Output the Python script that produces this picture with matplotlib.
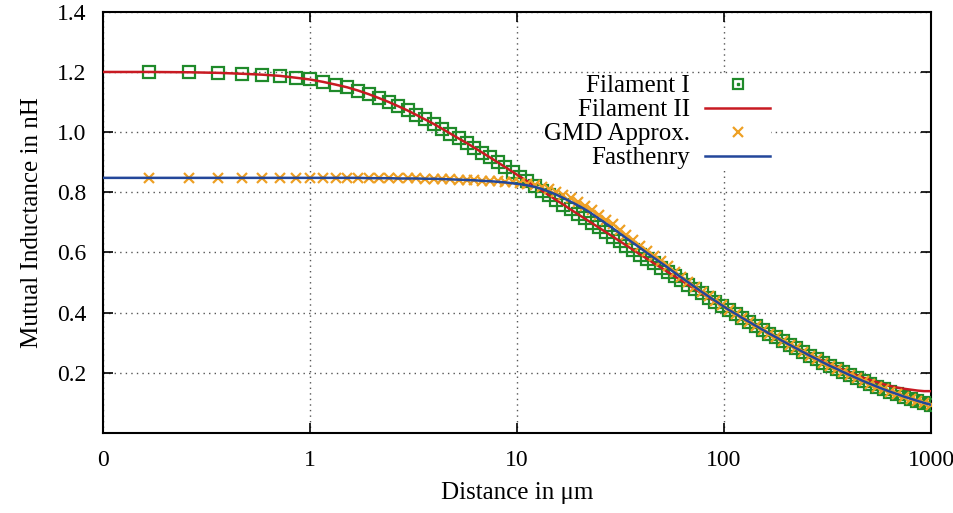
import numpy as np
import matplotlib
matplotlib.use("Agg")
import matplotlib.pyplot as plt
from matplotlib.lines import Line2D
from matplotlib.legend_handler import HandlerTuple
from matplotlib.ticker import FixedLocator, NullLocator

plt.rcParams['font.family'] = ['Liberation Serif', 'DejaVu Serif']
plt.rcParams['font.size'] = 18

# distance in um (marker positions)
dist = [0.166, 0.260, 0.361, 0.470, 0.588, 0.715, 0.851, 0.999, 1.157, 1.328,
        1.512, 1.710, 1.924, 2.154, 2.402, 2.669, 2.957, 3.267, 3.601, 3.962,
        4.349, 4.767, 5.218, 5.703, 6.225, 6.788, 7.395, 8.049, 8.753, 9.512,
        10.33, 11.21, 12.16, 13.18, 14.28, 15.47, 16.75, 18.13, 19.61, 21.21,
        22.93, 24.79, 26.79, 28.94, 31.26, 33.77, 36.46, 39.36, 42.49, 45.86,
        49.49, 53.40, 57.62, 62.16, 67.05, 72.32, 78.00, 84.12, 90.71, 97.82,
        105.5, 113.7, 122.6, 132.2, 142.5, 153.6, 165.6, 178.4, 192.3, 207.3,
        223.4, 240.8, 259.5, 279.7, 301.4, 324.8, 350.1, 377.2, 406.5, 438.1,
        472.0, 508.7, 548.1, 590.6, 636.4, 685.8, 738.9, 796.2, 857.9, 924.4,
        996.0]

filament1 = [1.200, 1.199, 1.197, 1.194, 1.191, 1.187, 1.181, 1.175, 1.167, 1.158,
             1.149, 1.138, 1.126, 1.113, 1.100, 1.086, 1.072, 1.057, 1.042, 1.027,
             1.011, 0.995, 0.979, 0.964, 0.948, 0.932, 0.916, 0.900, 0.884, 0.868,
             0.852, 0.837, 0.821, 0.805, 0.790, 0.774, 0.759, 0.743, 0.728, 0.713,
             0.698, 0.683, 0.668, 0.653, 0.638, 0.623, 0.608, 0.593, 0.579, 0.564,
             0.550, 0.535, 0.521, 0.507, 0.492, 0.478, 0.464, 0.450, 0.436, 0.423,
             0.409, 0.396, 0.382, 0.369, 0.356, 0.343, 0.330, 0.318, 0.305, 0.293,
             0.281, 0.269, 0.257, 0.246, 0.234, 0.223, 0.213, 0.202, 0.192, 0.182,
             0.172, 0.163, 0.154, 0.145, 0.137, 0.129, 0.121, 0.114, 0.107, 0.100,
             0.094]

gmd = [0.848, 0.848, 0.848, 0.848, 0.848, 0.848, 0.848, 0.848, 0.848, 0.848,
       0.848, 0.848, 0.847, 0.847, 0.847, 0.846, 0.846, 0.846, 0.845, 0.845,
       0.844, 0.843, 0.842, 0.841, 0.840, 0.838, 0.837, 0.836, 0.835, 0.833,
       0.831, 0.828, 0.825, 0.819, 0.811, 0.802, 0.792, 0.781, 0.769, 0.756,
       0.741, 0.725, 0.709, 0.693, 0.675, 0.657, 0.640, 0.623, 0.605, 0.588,
       0.571, 0.554, 0.536, 0.519, 0.502, 0.485, 0.469, 0.454, 0.439, 0.424,
       0.409, 0.396, 0.382, 0.369, 0.356, 0.343, 0.330, 0.318, 0.305, 0.293,
       0.281, 0.269, 0.257, 0.246, 0.234, 0.223, 0.213, 0.202, 0.192, 0.182,
       0.172, 0.163, 0.154, 0.145, 0.137, 0.129, 0.121, 0.114, 0.107, 0.100,
       0.094]

# lines start at the left edge of the axis
line_dist = [0.1] + dist

filament2 = [1.200,
             1.200, 1.199, 1.197, 1.194, 1.191, 1.187, 1.181, 1.175, 1.167, 1.158,
             1.149, 1.138, 1.126, 1.113, 1.100, 1.086, 1.072, 1.057, 1.042, 1.027,
             1.011, 0.995, 0.979, 0.964, 0.948, 0.932, 0.916, 0.900, 0.884, 0.868,
             0.852, 0.837, 0.821, 0.805, 0.790, 0.774, 0.759, 0.743, 0.728, 0.713,
             0.698, 0.683, 0.668, 0.653, 0.638, 0.623, 0.608, 0.593, 0.579, 0.564,
             0.550, 0.535, 0.521, 0.507, 0.492, 0.478, 0.464, 0.450, 0.436, 0.423,
             0.410, 0.396, 0.383, 0.370, 0.357, 0.344, 0.331, 0.319, 0.307, 0.295,
             0.283, 0.272, 0.260, 0.249, 0.239, 0.229, 0.219, 0.209, 0.200, 0.191,
             0.183, 0.176, 0.169, 0.162, 0.156, 0.151, 0.147, 0.144, 0.141, 0.139,
             0.139]

fasthenry = [0.848,
             0.848, 0.848, 0.848, 0.848, 0.848, 0.848, 0.848, 0.848, 0.848, 0.848,
             0.848, 0.848, 0.847, 0.847, 0.847, 0.846, 0.846, 0.846, 0.845, 0.845,
             0.844, 0.843, 0.842, 0.841, 0.840, 0.838, 0.837, 0.835, 0.833, 0.830,
             0.827, 0.823, 0.818, 0.811, 0.802, 0.792, 0.781, 0.769, 0.757, 0.744,
             0.729, 0.713, 0.697, 0.681, 0.664, 0.647, 0.631, 0.615, 0.598, 0.582,
             0.566, 0.550, 0.533, 0.517, 0.501, 0.485, 0.469, 0.454, 0.439, 0.424,
             0.409, 0.396, 0.382, 0.369, 0.356, 0.343, 0.330, 0.318, 0.305, 0.293,
             0.281, 0.269, 0.257, 0.246, 0.234, 0.223, 0.213, 0.202, 0.192, 0.182,
             0.172, 0.163, 0.154, 0.145, 0.137, 0.129, 0.121, 0.114, 0.107, 0.100,
             0.094]

xticks = [0.1, 1, 10, 100, 1000]
xticklabels = ["0", "1", "10", "100", "1000"]
yticks = [0.2, 0.4, 0.6, 0.8, 1.0, 1.2, 1.4]
yticklabels = ["0.2", "0.4", "0.6", "0.8", "1.0", "1.2", "1.4"]

green = "#1f8a2a"
red = "#c81a22"
orange = "#eea024"
blue = "#23479a"

fig = plt.figure(figsize=(9.54, 5.13), dpi=100)
ax = fig.add_axes([0.108, 0.156, 0.868, 0.821])

ax.plot(dist, filament1, ls="none", marker="s", ms=8, mfc="none",
        mec=green, mew=1.6, zorder=3)
ax.plot(line_dist, filament2, color=red, lw=1.8, zorder=4)
ax.plot(dist, gmd, ls="none", marker="x", ms=7, mec=orange, mew=1.6, zorder=5)
ax.plot(line_dist, fasthenry, color=blue, lw=1.8, zorder=6)

ax.set_xscale("log")
ax.set_xlim(0.1, 1000)
ax.set_ylim(0, 1.4)
ax.xaxis.set_major_locator(FixedLocator(xticks))
ax.xaxis.set_minor_locator(NullLocator())
ax.set_xticklabels(xticklabels)
ax.set_yticks(yticks)
ax.set_yticklabels(yticklabels)
ax.tick_params(direction="in", top=True, right=True, length=7, width=1.2,
               labelsize=17)
ax.tick_params(axis="x", pad=12)
ax.tick_params(axis="y", pad=12)
for s in ax.spines.values():
    s.set_linewidth(1.5)

ax.grid(True, ls=(0, (1, 3)), color="#555555", lw=1.0)

ax.set_xlabel("Distance in μm", labelpad=8)
ax.set_ylabel("Mutual Inductance in nH", labelpad=10)

# legend handles
h1 = (Line2D([], [], ls="none", marker="s", ms=7, mfc="none", mec=green, mew=1.6),
      Line2D([], [], ls="none", marker="s", ms=1.5, color=green))
h2 = Line2D([], [], color=red, lw=1.8)
h3 = Line2D([], [], ls="none", marker="x", ms=7, mec=orange, mew=1.6)
h4 = Line2D([], [], color=blue, lw=1.8)
leg = ax.legend([h1, h2, h3, h4], ["Filament I", "Filament II", "GMD Approx.", "Fasthenry"],
                handler_map={tuple: HandlerTuple(ndivide=1, pad=0)},
                markerfirst=False, loc="upper right", bbox_to_anchor=(0.807, 0.853),
                frameon=True, framealpha=1, edgecolor="none", fancybox=False,
                handlelength=2.6, labelspacing=0.06, borderpad=0.05,
                handletextpad=0.6, borderaxespad=0)
leg.set_zorder(10)

fig.savefig("out.png", dpi=100)
